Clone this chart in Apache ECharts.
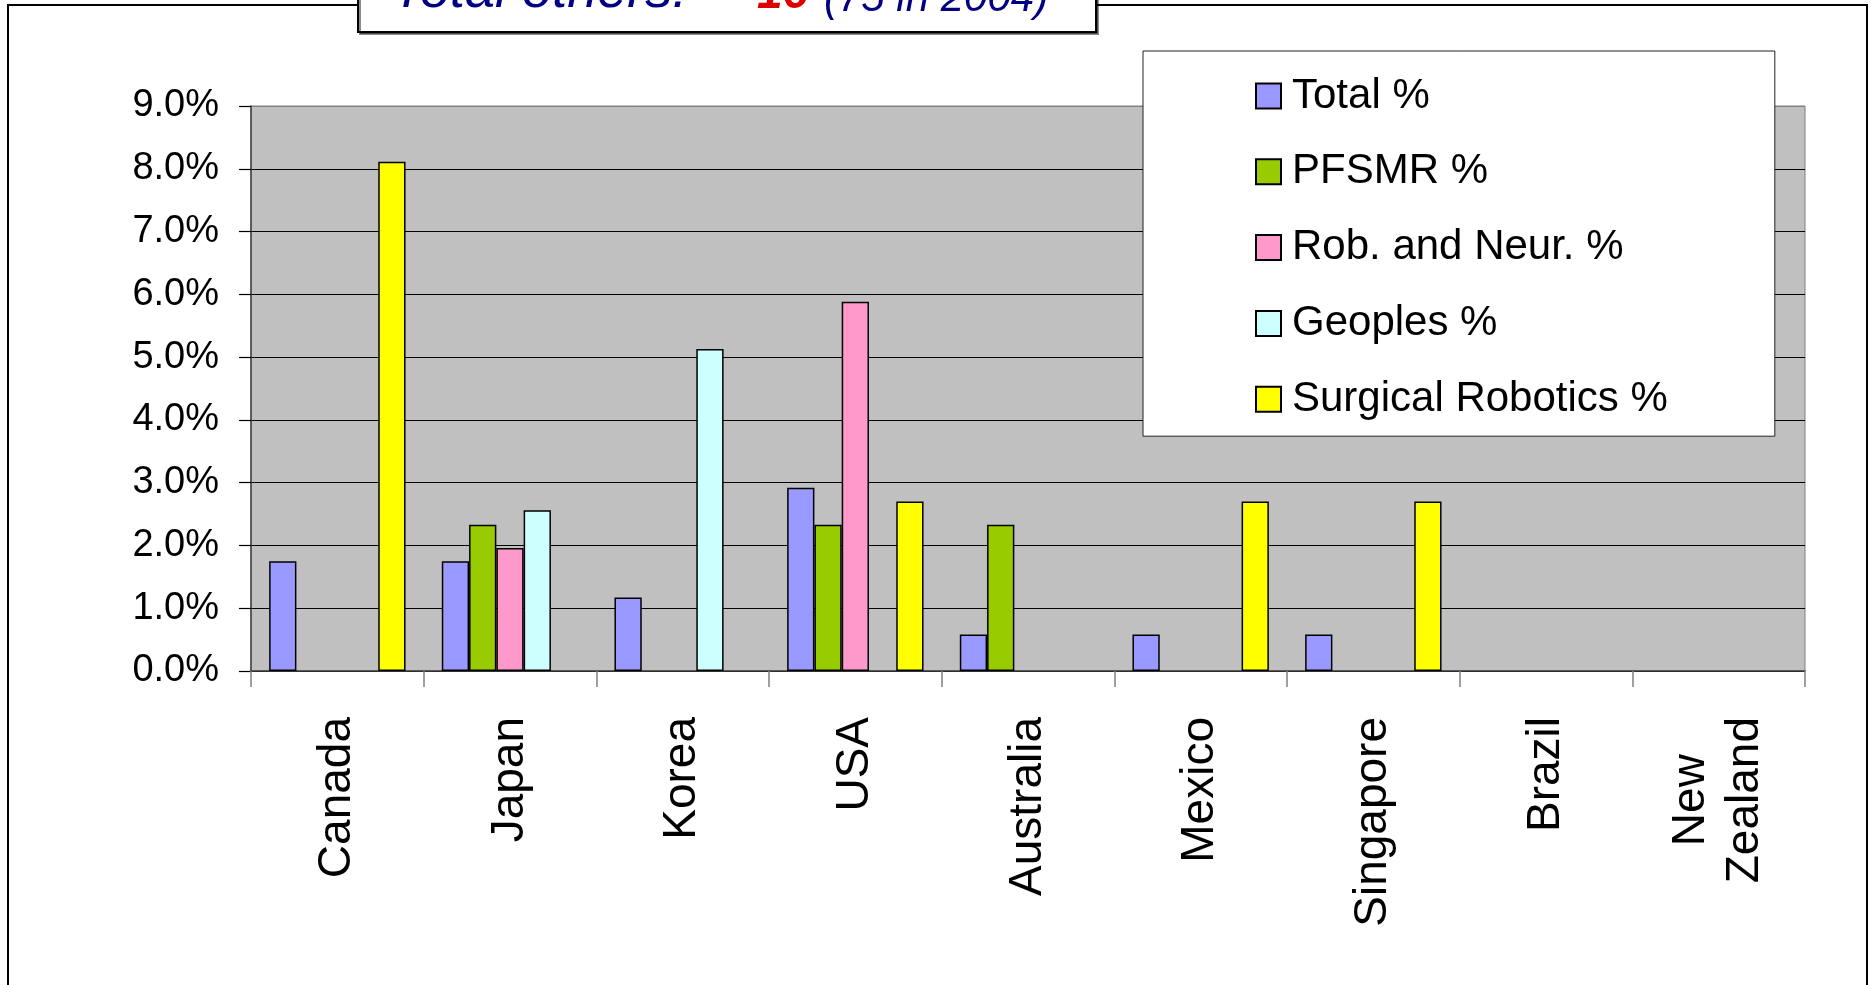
<!DOCTYPE html>
<html>
<head>
<meta charset="utf-8">
<script src="https://cdn.jsdelivr.net/npm/echarts@6/dist/echarts.min.js"></script>
<style>
html,body{margin:0;padding:0;background:#fff;}
#chart{width:1872px;height:985px;}
</style>
</head>
<body>
<div id="chart"></div>
<script>
const categories = ['Canada', 'Japan', 'Korea', 'USA', 'Australia', 'Mexico', 'Singapore', 'Brazil', 'New Zealand'];
const totalPct     = [1.75, 1.75, 1.17, 2.92, 0.58, 0.58, 0.58, null, null];
const pfsmrPct     = [null, 2.33, null, 2.33, 2.33, null, null, null, null];
const robNeurPct   = [null, 1.96, null, 5.88, null, null, null, null, null];
const geoplesPct   = [null, 2.56, 5.13, null, null, null, null, null, null];
const surgicalPct  = [8.11, null, null, 2.70, null, 2.70, 2.70, null, null];
const seriesNames  = ['Total %', 'PFSMR %', 'Rob. and Neur. %', 'Geoples %', 'Surgical Robotics %'];
const seriesColors = ['#9999FF', '#99CC00', '#FF99CC', '#CCFFFF', '#FFFF00'];
const yTicks = { min: 0, max: 9, interval: 1 };

const FONT = "'Liberation Sans', Arial, Helvetica, sans-serif";
const chart = echarts.init(document.getElementById('chart'), null, { renderer: 'canvas' });

const seriesData = [totalPct, pfsmrPct, robNeurPct, geoplesPct, surgicalPct];
const series = seriesData.map((d, i) => ({
  name: seriesNames[i],
  type: 'bar',
  data: d,
  barGap: '0%',
  barCategoryGap: '21%',
  itemStyle: { color: seriesColors[i], borderColor: '#000', borderWidth: 1.5 },
  emphasis: { disabled: true }
}));

const splitColors = [];
for (let v = yTicks.min; v <= yTicks.max; v += yTicks.interval) splitColors.push(v === yTicks.max ? '#808080' : '#000');

chart.setOption({
  animation: false,
  backgroundColor: '#fff',
  grid: {
    left: 251, right: 67, top: 106, bottom: 314,
    show: true, backgroundColor: '#C0C0C0', borderColor: '#808080', borderWidth: 1
  },
  legend: {
    orient: 'vertical',
    left: 1143, top: 51,
    padding: [24, 107, 16, 112],
    backgroundColor: '#fff',
    borderColor: '#222', borderWidth: 1,
    itemWidth: 25, itemHeight: 25, itemGap: 33.8,
    icon: 'rect',
    z: 10,
    textStyle: { fontFamily: FONT, fontSize: 42, color: '#000', lineHeight: 41, padding: [0, 0, 0, 6] },
    data: seriesNames
  },
  xAxis: {
    type: 'category',
    data: categories,
    boundaryGap: true,
    axisLine: { show: true, lineStyle: { color: '#404040', width: 1.5 } },
    axisTick: { show: true, length: 16, lineStyle: { color: '#808080', width: 1.5 } },
    axisLabel: {
      interval: 0, rotate: 90, margin: 46,
      fontFamily: FONT, fontSize: 46, color: '#000',
      formatter: v => v.split(' ').map(w => '{c|' + w + '}').join('\n'),
      rich: { c: { fontFamily: FONT, fontSize: 46, color: '#000', align: 'center', lineHeight: 54 } }
    },
    splitLine: { show: false }
  },
  yAxis: {
    type: 'value',
    min: yTicks.min, max: yTicks.max, interval: yTicks.interval,
    axisLine: { show: true, lineStyle: { color: '#404040', width: 1.5 } },
    axisTick: { show: true, length: 12, lineStyle: { color: '#000', width: 1.2 } },
    axisLabel: {
      margin: 32, fontFamily: FONT, fontSize: 38, color: '#000',
      formatter: v => v.toFixed(1) + '%'
    },
    splitLine: { show: true, lineStyle: { color: splitColors, width: 1.2 } }
  },
  graphic: [
    { type: 'rect', z: 1, silent: true,
      shape: { x: 8, y: 5, width: 1859, height: 1000 },
      style: { fill: 'none', stroke: '#000', lineWidth: 2 } },
    { type: 'rect', z: 20, silent: true,
      shape: { x: 358, y: -10, width: 738, height: 42 },
      style: { fill: '#fff', stroke: '#000', lineWidth: 2,
               shadowColor: 'rgba(0,0,0,0.45)', shadowOffsetX: 2, shadowOffsetY: 2, shadowBlur: 0 } },
    { type: 'text', z: 21, silent: true, x: 392, y: -8,
      style: { text: 'Total others:', font: 'italic 54px ' + FONT, fill: '#000080',
               verticalAlign: 'middle', align: 'left' } },
    { type: 'text', z: 21, silent: true, x: 757, y: -5,
      style: { text: '16', font: 'italic bold 46px ' + FONT, fill: '#DD0000',
               verticalAlign: 'middle', align: 'left' } },
    { type: 'text', z: 21, silent: true, x: 824, y: -1,
      style: { text: '(75 in 2004)', font: 'italic 42px ' + FONT, fill: '#000080',
               verticalAlign: 'middle', align: 'left' } }
  ],
  series: series
});
</script>
</body>
</html>
